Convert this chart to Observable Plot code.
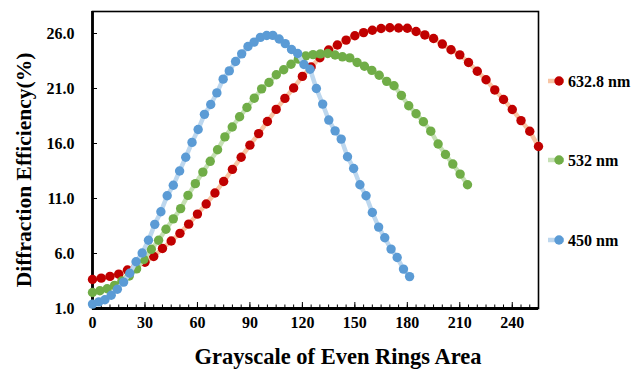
<!DOCTYPE html>
<html>
<head>
<meta charset="utf-8">
<script src="https://cdn.jsdelivr.net/npm/d3@7"></script>
<script src="https://cdn.jsdelivr.net/npm/@observablehq/plot@0.6"></script>
<style>
  html, body { margin: 0; padding: 0; background: #fff; }
  #chart { position: relative; width: 634px; height: 375px; }
</style>
</head>
<body>
<div id="chart"></div>
<script>
// Grayscale positions of each series (x values)
const redX = [0,5,10,15,20,25,30,35,40,45,50,55,60,65,70,75,80,85,90,95,100,105,110,115,120,125,130,135,140,145,150,155,160,165,170,175,180,185,190,195,200,205,210,215,220,225,230,235,240,245,250,255];
const greenX = [0,4.2,8.4,12.6,16.8,21.0,25.2,29.4,33.6,37.8,42.0,46.2,50.4,54.6,58.8,63.1,67.3,71.5,75.7,79.9,84.1,88.3,92.5,96.7,100.9,105.1,109.3,113.5,117.7,121.9,126.1,130.3,134.5,138.7,142.9,147.1,151.3,155.5,159.7,163.9,168.2,172.4,176.6,180.8,185.0,189.2,193.4,197.6,201.8,206.0,210.2,214.4];
const blueX = [0,3.6,7.1,10.7,14.2,17.8,21.3,24.9,28.4,32.0,35.6,39.1,42.7,46.2,49.8,53.3,56.9,60.4,64.0,67.6,71.1,74.7,78.2,81.8,85.3,88.9,92.4,96.0,99.6,103.1,106.7,110.2,113.8,117.3,120.9,124.4,128.0,131.6,135.1,138.7,142.2,145.8,149.3,152.9,156.4,160.0,163.6,167.1,170.7,174.2,177.8,181.3];

// Diffraction efficiency (%)
const red = [3.64,3.76,3.92,4.12,4.5,4.85,5.2,5.73,6.45,7.14,7.83,8.67,9.58,10.5,11.5,12.55,13.65,14.75,15.85,16.9,18.0,19.1,20.1,21.05,22.1,22.95,23.8,24.5,24.95,25.4,25.8,26.08,26.3,26.45,26.52,26.5,26.48,26.18,25.87,25.55,25.04,24.52,24.06,23.36,22.57,21.8,20.87,20.0,19.09,18.08,17.11,15.73];
const green = [2.45,2.61,2.8,3.1,3.5,3.95,4.6,5.45,6.38,7.2,8.2,9.15,10.08,11.28,12.35,13.4,14.38,15.43,16.6,17.5,18.43,19.27,20.12,20.97,21.55,22.25,22.7,23.2,23.67,23.95,24.08,24.15,24.18,24.05,23.88,23.78,23.36,23.02,22.65,22.2,21.65,21.25,20.37,19.43,18.7,17.98,17.12,15.95,15.0,14.13,13.22,12.25];
const blue = [1.4,1.6,1.8,2.2,2.75,3.4,4.2,5.25,6.05,7.2,8.65,9.8,11.25,12.2,13.5,14.75,16.1,17.27,18.65,19.55,20.6,21.85,22.6,23.45,24.15,24.82,25.22,25.65,25.82,25.83,25.5,25.08,24.55,24.18,23.18,22.75,21.0,19.58,18.13,17.15,16.4,14.8,13.73,12.25,11.25,9.73,8.4,7.43,6.4,5.64,4.58,3.9];

const seriesNames = ["632.8 nm", "532 nm", "450 nm"];
const dotColors = ["#C00000", "#70AD47", "#5B9BD5"];
const lineColors = ["#F8C5A4", "#C5E0B4", "#BDD7EE"];

const xTicks = [0,30,60,90,120,150,180,210,240];
const xMinorTicks = [0,5,10,15,20,25,30,35,40,45,50,55,60,65,70,75,80,85,90,95,100,105,110,115,120,125,130,135,140,145,150,155,160,165,170,175,180,185,190,195,200,205,210,215,220,225,230,235,240,245,250,255];
const yTicks = [1,6,11,16,21,26];

const xs = [redX, greenX, blueX];
const ys = [red, green, blue];
const tables = ys.map((vals, s) => vals.map((v, i) => ({x: xs[s][i], y: v})));

const font = "'Liberation Serif', 'Times New Roman', serif";

const marks = [];
tables.forEach((t, s) => {
  marks.push(Plot.line(t, {x: "x", y: "y", stroke: lineColors[s], strokeWidth: 4.5}));
  marks.push(Plot.dot(t, {x: "x", y: "y", fill: dotColors[s], r: 4.7, stroke: "none"}));
});

const chart = Plot.plot({
  width: 634,
  height: 375,
  marginLeft: 92,
  marginRight: 96,
  marginTop: 11,
  marginBottom: 67,
  style: {fontFamily: font, background: "#fff", color: "#000", overflow: "visible"},
  x: {domain: [0, 255]},
  y: {domain: [1, 28]},
  marks: [
    Plot.frame({stroke: "#000", strokeWidth: 1.6}),
    Plot.axisX({ticks: xMinorTicks, tickSize: -3.5, tickFormat: () => "", label: null, stroke: "#000"}),
    Plot.axisX({ticks: xTicks, tickSize: -6, tickPadding: 14, fontSize: 16, fontWeight: "bold", label: null, stroke: "#000"}),
    Plot.axisY({ticks: yTicks, tickSize: -5, tickPadding: 23, tickFormat: d3.format(".1f"), fontSize: 16, fontWeight: "bold", label: null, stroke: "#000"}),
    Plot.ruleY([1], {stroke: "#000", strokeWidth: 2.8}),
    Plot.ruleX([0], {stroke: "#000", strokeWidth: 2.8}),
    ...marks
  ]
});

document.getElementById("chart").appendChild(chart);

const svg = d3.select(chart);
// axis titles
svg.append("text")
  .attr("transform", "translate(24,170) rotate(-90)")
  .attr("text-anchor", "middle")
  .attr("dominant-baseline", "central")
  .style("font-family", font).style("font-weight", "bold").style("font-size", "21.5px")
  .text("Diffraction Efficiency(%)");
svg.append("text")
  .attr("x", 338).attr("y", 356)
  .attr("text-anchor", "middle")
  .attr("dominant-baseline", "central")
  .style("font-family", font).style("font-weight", "bold").style("font-size", "22.5px")
  .text("Grayscale of Even Rings Area");

// legend
const legendY = [81, 160, 240];
seriesNames.forEach((name, s) => {
  const g = svg.append("g").attr("transform", `translate(548,${legendY[s]})`);
  g.append("line").attr("x1", 0).attr("x2", 16).attr("y1", 0).attr("y2", 0)
    .attr("stroke", lineColors[s]).attr("stroke-width", 4.5);
  g.append("circle").attr("cx", 11).attr("cy", 0).attr("r", 4.7).attr("fill", dotColors[s]);
  g.append("text").attr("x", 20).attr("y", 0)
    .attr("text-anchor", "start")
    .attr("dominant-baseline", "central")
    .style("font-family", font).style("font-weight", "bold").style("font-size", "16px")
    .text(name);
});
</script>
</body>
</html>
